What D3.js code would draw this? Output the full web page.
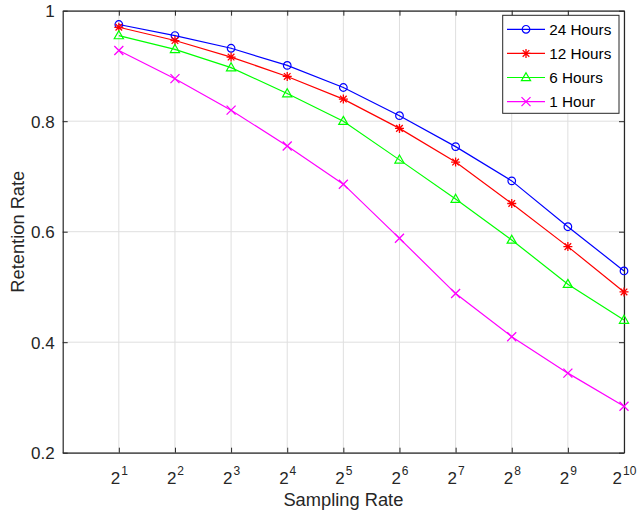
<!DOCTYPE html>
<html lang="en">
<head>
	<meta charset="utf-8">
	<title>Retention rate vs sampling rate</title>
	<script type="text/javascript" src="https://d3js.org/d3.v7.min.js"></script>
	<style type="text/css">
		body { margin: 0; background: #fff; }
		svg { display: block; font-family: "Liberation Sans", Arial, Helvetica, sans-serif; }
	</style>
</head>
<body>
	<script type="text/javascript">
		// canvas
		var w = 637;
		var h = 513;
		var margin = { left: 62.7, top: 10.7, right: 13, bottom: 60.3 };

		// data: exponent of the sampling rate (2^k) and retention per series
		var exponents = [1, 2, 3, 4, 5, 6, 7, 8, 9, 10];
		var yTicks = [0.2, 0.4, 0.6, 0.8, 1];
		var seriesNames = ["24 Hours", "12 Hours", "6 Hours", "1 Hour"];
		var hours24 = [0.975, 0.955, 0.932, 0.901, 0.861, 0.810, 0.754, 0.692, 0.609, 0.529];
		var hours12 = [0.970, 0.946, 0.916, 0.881, 0.840, 0.787, 0.726, 0.651, 0.573, 0.491];
		var hours6  = [0.955, 0.930, 0.897, 0.850, 0.800, 0.730, 0.659, 0.585, 0.505, 0.440];
		var hours1  = [0.928, 0.877, 0.820, 0.755, 0.686, 0.588, 0.488, 0.410, 0.344, 0.284];

		var colors = ["#0000ff", "#ff0000", "#00ff00", "#ff00ff"];
		var markers = ["circle", "star", "triangle", "cross"];
		var allSeries = [hours24, hours12, hours6, hours1];

		var axisColor = "#262626";
		var gridColor = "#dfdfdf";

		var iw = w - margin.left - margin.right;
		var ih = h - margin.top - margin.bottom;

		var svg = d3.select("body")
			.append("svg")
			.attr("width", w)
			.attr("height", h);

		var g = svg.append("g")
			.attr("transform", "translate(" + margin.left + "," + margin.top + ")");

		var x = d3.scaleLinear().domain([0, 10]).range([0, iw]);
		var y = d3.scaleLinear().domain([0.2, 1]).range([ih, 0]);

		// grid lines
		g.append("g").selectAll("line")
			.data(exponents)
			.enter()
			.append("line")
			.attr("x1", function(d) { return x(d); })
			.attr("x2", function(d) { return x(d); })
			.attr("y1", 0)
			.attr("y2", ih)
			.attr("stroke", gridColor)
			.attr("stroke-width", 1);
		g.append("g").selectAll("line")
			.data(yTicks)
			.enter()
			.append("line")
			.attr("x1", 0)
			.attr("x2", iw)
			.attr("y1", function(d) { return y(d); })
			.attr("y2", function(d) { return y(d); })
			.attr("stroke", gridColor)
			.attr("stroke-width", 1);

		// axes, ticks pointing inwards like matlab
		var xAxis = g.append("g")
			.attr("transform", "translate(0," + ih + ")")
			.call(d3.axisBottom(x).tickValues(exponents).tickSizeInner(-5).tickSizeOuter(0));
		var xTop = g.append("g")
			.call(d3.axisTop(x).tickValues(exponents).tickSizeInner(-5).tickSizeOuter(0).tickFormat(""));
		var yAxis = g.append("g")
			.call(d3.axisLeft(y).tickValues(yTicks).tickSizeInner(-5).tickSizeOuter(0).tickFormat(d3.format("")));
		var yRight = g.append("g")
			.attr("transform", "translate(" + iw + ",0)")
			.call(d3.axisRight(y).tickValues(yTicks).tickSizeInner(-5).tickSizeOuter(0).tickFormat(""));

		[xAxis, xTop, yAxis, yRight].forEach(function(a) {
			a.select(".domain").attr("stroke", axisColor).attr("stroke-width", 1.2);
			a.selectAll(".tick line").attr("stroke", axisColor).attr("stroke-width", 1);
		});

		// x tick labels as 2^k with superscript
		xAxis.selectAll(".tick text")
			.attr("y", 31)
			.attr("dy", 0)
			.attr("font-size", "17px")
			.attr("fill", axisColor)
			.each(function(d) {
				var t = d3.select(this);
				t.text(null);
				t.append("tspan").text("2");
				t.append("tspan").attr("dy", -9).attr("dx", 1).attr("font-size", "12px").text(d);
			});

		yAxis.selectAll(".tick text")
			.attr("x", -8)
			.attr("dy", "0.35em")
			.attr("font-size", "17px")
			.attr("fill", axisColor);

		// axis titles
		g.append("text")
			.attr("x", iw / 2)
			.attr("y", ih + 53)
			.attr("text-anchor", "middle")
			.attr("font-size", "18.3px")
			.attr("fill", axisColor)
			.text("Sampling Rate");
		g.append("text")
			.attr("transform", "translate(" + (24 - margin.left) + "," + (ih / 2) + ") rotate(-90)")
			.attr("text-anchor", "middle")
			.attr("font-size", "18.3px")
			.attr("fill", axisColor)
			.text("Retention Rate");

		// marker drawing
		function drawMarker(sel, type, color) {
			if (type === "circle") {
				sel.append("circle").attr("r", 3.8).attr("fill", "none").attr("stroke", color).attr("stroke-width", 1.2);
			} else if (type === "triangle") {
				sel.append("path").attr("d", "M0,-4.8L4.6,3.2L-4.6,3.2Z").attr("fill", "none").attr("stroke", color).attr("stroke-width", 1.2);
			} else if (type === "star") {
				sel.append("path").attr("d", "M0,-4.5V4.5M-4.5,0H4.5M-3.3,-3.3L3.3,3.3M-3.3,3.3L3.3,-3.3").attr("stroke", color).attr("stroke-width", 1.3);
			} else {
				sel.append("path").attr("d", "M-4.5,-4.5L4.5,4.5M-4.5,4.5L4.5,-4.5").attr("stroke", color).attr("stroke-width", 1.3);
			}
		}

		var line = d3.line()
			.x(function(d, i) { return x(exponents[i]); })
			.y(function(d) { return y(d); });

		allSeries.forEach(function(values, s) {
			g.append("path")
				.datum(values)
				.attr("d", line)
				.attr("fill", "none")
				.attr("stroke", colors[s])
				.attr("stroke-width", 1.2);
			g.append("g").selectAll("g")
				.data(values)
				.enter()
				.append("g")
				.attr("transform", function(d, i) { return "translate(" + x(exponents[i]) + "," + y(d) + ")"; })
				.each(function() { drawMarker(d3.select(this), markers[s], colors[s]); });
		});

		// legend
		var legend = svg.append("g").attr("transform", "translate(502.7,15.3)");
		legend.append("rect")
			.attr("width", 116.3)
			.attr("height", 98)
			.attr("fill", "#fff")
			.attr("stroke", axisColor)
			.attr("stroke-width", 1);
		var rows = legend.selectAll("g.row")
			.data(seriesNames)
			.enter()
			.append("g")
			.attr("class", "row")
			.attr("transform", function(d, i) { return "translate(0," + (14 + i * 24.1) + ")"; });
		rows.append("line")
			.attr("x1", 4.3).attr("x2", 42.3)
			.attr("stroke", function(d, i) { return colors[i]; })
			.attr("stroke-width", 1.2);
		rows.append("g")
			.attr("transform", "translate(23.3,0)")
			.each(function(d, i) { drawMarker(d3.select(this), markers[i], colors[i]); });
		rows.append("text")
			.attr("x", 46.6)
			.attr("dy", "0.36em")
			.attr("font-size", "15.3px")
			.attr("fill", "#000")
			.text(function(d) { return d; });
	</script>
</body>
</html>
